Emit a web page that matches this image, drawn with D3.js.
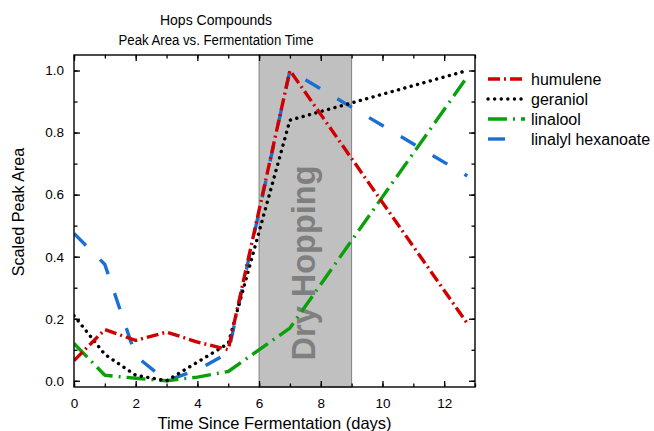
<!DOCTYPE html>
<html>
<head>
<meta charset="utf-8">
<script src="https://cdn.jsdelivr.net/npm/d3@7"></script>
<style>
  body { margin: 0; background: #fff; }
  text { font-family: "Liberation Sans", Arial, sans-serif; }
</style>
</head>
<body>
<div class="chart"></div>
<script>
// sample days and scaled peak areas
var days = [0, 1, 2, 3, 4, 5, 7, 12.75]
var humulene = [0.065, 0.165, 0.13, 0.157, 0.125, 0.10, 1.0, 0.185]
var geraniol = [0.21, 0.085, 0.018, 0.0, 0.06, 0.12, 0.84, 1.0]
var linalool = [0.12, 0.018, 0.008, 0.0, 0.012, 0.03, 0.17, 0.98]
var linalylHexanoate = [0.475, 0.375, 0.08, 0.0, 0.035, 0.09, 1.0, 0.66]
var dryHopping = [6, 9]
var xTicks = [0, 2, 4, 6, 8, 10, 12]
var yTicks = [0, 0.2, 0.4, 0.6, 0.8, 1.0]

var chartwidth = 654
var chartheight = 431
var plotLeft = 74, plotRight = 475, plotTop = 55, plotBottom = 387

var x = d3.scaleLinear().domain([0, 13]).range([plotLeft, plotRight])
var y = d3.scaleLinear().domain([-0.02, 1.05]).range([plotBottom, plotTop])

var series = [
  { name: 'humulene', values: humulene, color: '#d00000', dash: '12,4,2,4', cap: 'butt' },
  { name: 'geraniol', values: geraniol, color: '#000000', dash: '0.1,6.5', cap: 'round' },
  { name: 'linalool', values: linalool, color: '#0aa00a', dash: '19,6,2,6', cap: 'butt' },
  { name: 'linalyl hexanoate', values: linalylHexanoate, color: '#1a6fd4', dash: '17,20', cap: 'butt' }
]
// drawing order: blue under, red on top
var drawOrder = [3, 2, 1, 0]

var svg = d3.select('.chart').append('svg')
  .attr('width', chartwidth)
  .attr('height', chartheight)

svg.append('defs').append('clipPath').attr('id', 'plotclip')
  .append('rect')
  .attr('x', plotLeft).attr('y', plotTop)
  .attr('width', plotRight - plotLeft).attr('height', plotBottom - plotTop)

// dry hopping band
svg.append('rect')
  .attr('x', x(dryHopping[0]))
  .attr('y', plotTop)
  .attr('width', x(dryHopping[1]) - x(dryHopping[0]))
  .attr('height', plotBottom - plotTop)
  .attr('fill', '#c0c0c0')
  .attr('stroke', '#808080')
  .attr('stroke-width', 1)

svg.append('text')
  .attr('transform', `translate(${x((dryHopping[0] + dryHopping[1]) / 2) + 10},${y(0.37) - 3}) rotate(-90)`)
  .attr('text-anchor', 'middle')
  .attr('font-size', 32.5)
  .attr('font-weight', 'bold')
  .attr('fill', '#7f7f7f')
  .text('Dry Hopping')

// lines
var line = d3.line()
  .x((d, i) => x(days[i]))
  .y(d => y(d))

var lines = svg.append('g').attr('clip-path', 'url(#plotclip)')
drawOrder.forEach(k => {
  var s = series[k]
  lines.append('path')
    .attr('d', line(s.values))
    .attr('fill', 'none')
    .attr('stroke', s.color)
    .attr('stroke-width', 3.4)
    .attr('stroke-dasharray', s.dash)
    .attr('stroke-linecap', s.cap)
    .attr('stroke-linejoin', 'round')
})

// axes, ticks inward on all four sides
var xMinor = d3.range(0, 14, 1)
var yMinor = d3.range(0, 1.05, 0.1)

svg.append('g').attr('transform', `translate(0,${plotBottom})`)
  .call(d3.axisBottom(x).tickValues(xTicks).tickSize(-6).tickPadding(11).tickFormat(d3.format('d')))
svg.append('g').attr('transform', `translate(0,${plotBottom})`)
  .call(d3.axisBottom(x).tickValues(xMinor).tickSize(-3.5).tickFormat(''))
svg.append('g').attr('transform', `translate(0,${plotTop})`)
  .call(d3.axisTop(x).tickValues(xTicks).tickSize(-6).tickFormat(''))
svg.append('g').attr('transform', `translate(0,${plotTop})`)
  .call(d3.axisTop(x).tickValues(xMinor).tickSize(-3.5).tickFormat(''))

svg.append('g').attr('transform', `translate(${plotLeft},0)`)
  .call(d3.axisLeft(y).tickValues(yTicks).tickSize(-6).tickPadding(10).tickFormat(d3.format('.1f')))
svg.append('g').attr('transform', `translate(${plotLeft},0)`)
  .call(d3.axisLeft(y).tickValues(yMinor).tickSize(-3.5).tickFormat(''))
svg.append('g').attr('transform', `translate(${plotRight},0)`)
  .call(d3.axisRight(y).tickValues(yTicks).tickSize(-6).tickFormat(''))
svg.append('g').attr('transform', `translate(${plotRight},0)`)
  .call(d3.axisRight(y).tickValues(yMinor).tickSize(-3.5).tickFormat(''))

svg.selectAll('.domain').remove()
svg.selectAll('.tick line').attr('stroke', '#000').attr('stroke-width', 1.3)
svg.selectAll('.tick text').attr('font-size', 13.5).attr('fill', '#000')
  .style('font-family', '"Liberation Sans", Arial, sans-serif')

svg.append('rect')
  .attr('x', plotLeft).attr('y', plotTop)
  .attr('width', plotRight - plotLeft).attr('height', plotBottom - plotTop)
  .attr('fill', 'none')
  .attr('stroke', '#000')
  .attr('stroke-width', 1.4)

// titles
svg.append('text').attr('x', 216).attr('y', 25)
  .attr('text-anchor', 'middle').attr('font-size', 14)
  .text('Hops Compounds')
svg.append('text').attr('x', 216).attr('y', 45)
  .attr('text-anchor', 'middle').attr('font-size', 14)
  .attr('textLength', 195).attr('lengthAdjust', 'spacingAndGlyphs')
  .text('Peak Area vs. Fermentation Time')

svg.append('text').attr('x', (plotLeft + plotRight) / 2).attr('y', 429)
  .attr('text-anchor', 'middle').attr('font-size', 16.5)
  .text('Time Since Fermentation (days)')

svg.append('text')
  .attr('transform', `translate(24,212) rotate(-90)`)
  .attr('text-anchor', 'middle').attr('font-size', 16.2)
  .text('Scaled Peak Area')

// legend
var legend = svg.append('g').attr('transform', 'translate(488,79)')
series.forEach((s, i) => {
  var row = legend.append('g').attr('transform', `translate(0,${i * 20})`)
  row.append('line')
    .attr('x1', 0).attr('x2', 37)
    .attr('stroke', s.color)
    .attr('stroke-width', 3.4)
    .attr('stroke-dasharray', s.dash)
    .attr('stroke-linecap', s.cap)
  row.append('text')
    .attr('x', 43).attr('y', 5.5)
    .attr('font-size', 16)
    .text(s.name)
})
</script>
</body>
</html>
